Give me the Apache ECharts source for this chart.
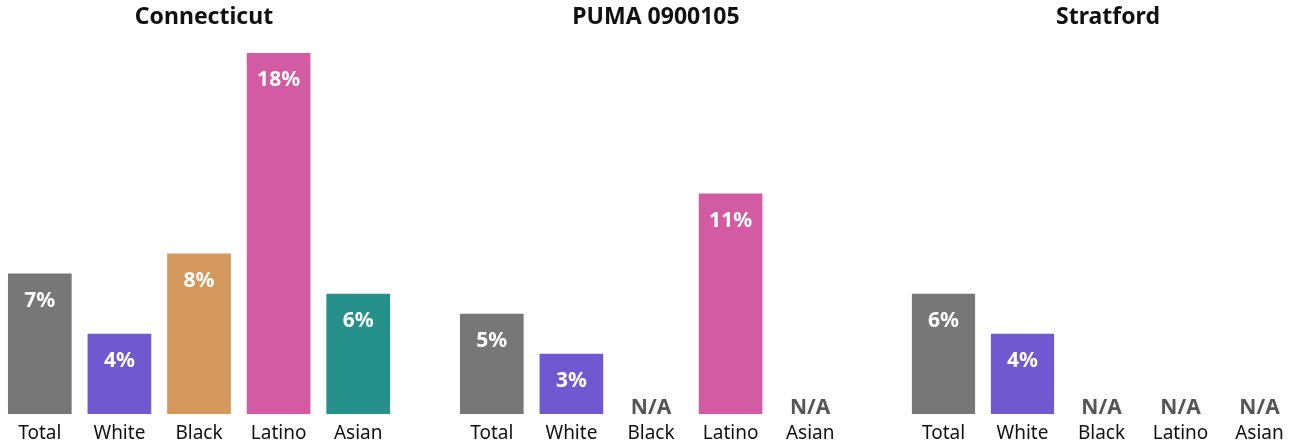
<!DOCTYPE html>
<html><head><meta charset="utf-8">
<script src="https://cdn.jsdelivr.net/npm/echarts@6/dist/echarts.min.js"></script>
<style>html,body{margin:0;padding:0;background:#fff}#c{width:1299px;height:446px}</style>
</head><body><div id="c"></div>
<script>
const categories = ['Total','White','Black','Latino','Asian'];
const panelTitles = ['Connecticut','PUMA 0900105','Stratford'];
const connecticut = [7, 4, 8, 18, 6];
const puma = [5, 3, null, 11, null];
const stratford = [6, 4, null, null, null];
const colors = ['#777777','#6e59d0','#d4985c','#d35ba3','#26918b'];
const panels = [connecticut, puma, stratford];
const FONT = '"Noto Sans", Lato, sans-serif';
const lefts = [0, 452, 904];
const W = 398;

const chart = echarts.init(document.getElementById('c'));
const grid = [], xAxis = [], yAxis = [], series = [], title = [];
panels.forEach((vals, i) => {
  grid.push({left: lefts[i], width: W, top: 53, bottom: 32, containLabel: false});
  title.push({text: panelTitles[i], left: lefts[i] + W/2, top: 1, textAlign: 'center',
    textStyle: {fontFamily: FONT, fontWeight: 'bold', fontSize: 23, color: '#111'}});
  xAxis.push({type: 'category', gridIndex: i, data: categories,
    axisLine: {show: false}, axisTick: {show: false},
    axisLabel: {fontFamily: FONT, fontSize: 19, color: '#111', margin: 10, interval: 0}});
  yAxis.push({type: 'value', gridIndex: i, min: 0, max: 18, show: false, splitLine: {show: false}});
  series.push({type: 'bar', xAxisIndex: i, yAxisIndex: i, barCategoryGap: '20%',
    data: vals.map((v, j) => v === null ? {
        value: 0, itemStyle: {color: colors[j]},
        label: {show: true, position: 'top', distance: -5, formatter: 'N/A', color: '#555'}
      } : {
        value: v, itemStyle: {color: colors[j]},
        label: {show: true, position: 'insideTop', distance: 17, formatter: v + '%', color: '#fff'}
      }),
    label: {fontFamily: FONT, fontWeight: 'bold', fontSize: 21},
    animation: false
  });
});
chart.setOption({title, grid, xAxis, yAxis, series, animation: false});
</script></body></html>
